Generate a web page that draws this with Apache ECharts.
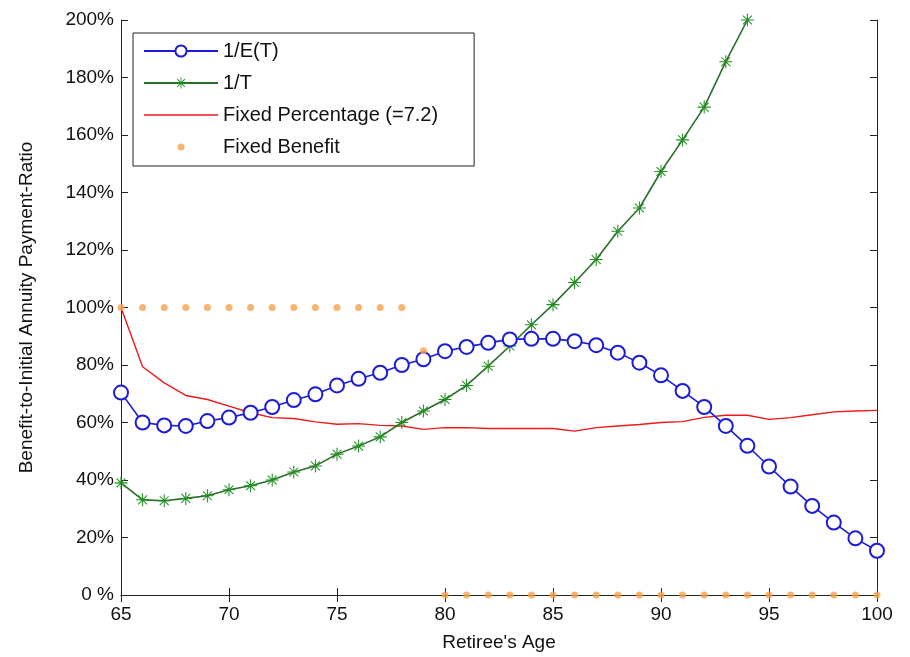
<!DOCTYPE html>
<html>
<head>
<meta charset="utf-8">
<script src="https://cdn.jsdelivr.net/npm/echarts@6/dist/echarts.min.js"></script>
<style>html,body{margin:0;padding:0;background:#fff;}#c{width:910px;height:657px;}</style>
</head>
<body>
<div id="c"></div>
<script>
const ages = [65,66,67,68,69,70,71,72,73,74,75,76,77,78,79,80,81,82,83,84,85,86,87,88,89,90,91,92,93,94,95,96,97,98,99,100];
const invET = [70.4,60,59,58.8,60.5,61.7,63.4,65.4,67.8,69.8,72.9,75.2,77.3,80,82,84.8,86.3,87.7,88.9,89.1,89.1,88.3,86.9,84.3,80.8,76.4,71,65.4,58.8,51.9,44.7,37.7,31,25.2,19.7,15.4];
const invT = [39,33.1,32.8,33.6,34.5,36.6,38,40,42.8,44.9,49,51.8,55,60,64,68,72.9,79.6,86.6,94,101,108.7,116.7,126.5,134.6,147.3,158.3,169.7,185.5,200];
const fixedPct = [100,79.4,73.8,69.4,68,65.7,63.4,61.7,61.4,60.2,59.4,59.6,59,58.8,57.6,58.2,58.2,57.9,57.9,57.9,57.9,57,58.2,58.8,59.3,60,60.3,61.8,62.5,62.5,61.1,61.7,62.7,63.7,64,64.2];
const fixedBenefit = [100,100,100,100,100,100,100,100,100,100,100,100,100,100,85,0,0,0,0,0,0,0,0,0,0,0,0,0,0,0,0,0,0,0,0,0];
const xTicks = [65,70,75,80,85,90,95,100];
const yTicks = ['0 %','20%','40%','60%','80%','100%','120%','140%','160%','180%','200%'];

const zip = (xs, ys) => ys.map((v, i) => [xs[i], v]);
const star = 'path://M9.2 0L10.8 0L10.8 20L9.2 20Z M0 9.2L20 9.2L20 10.8L0 10.8Z M2.6 3.7L3.7 2.6L17.4 16.3L16.3 17.4Z M16.3 2.6L17.4 3.7L3.7 17.4L2.6 16.3Z';
// legend icons: bounding points at the corners keep the 74x14 box
const lineIcon = 'path://M0 0L0.01 0L0 0.01Z M74 14L73.99 14L74 13.99Z M0 6.3L74 6.3L74 7.7L0 7.7Z';
const dotIcon = 'path://M0 0L0.01 0L0 0.01Z M74 14L73.99 14L74 13.99Z M33.5 7A3.5 3.5 0 1 0 40.5 7A3.5 3.5 0 1 0 33.5 7Z';
const font = 'Liberation Sans, Arial, sans-serif';
const frame = '#222';

const chart = echarts.init(document.getElementById('c'));
chart.setOption({
  animation: false,
  backgroundColor: '#fff',
  textStyle: {fontFamily: font},
  grid: {left: 121, right: 33, top: 20, bottom: 61},
  legend: {
    orient: 'vertical', left: 133, top: 33,
    padding: [8, 36, 9, 10],
    itemWidth: 74, itemHeight: 14, itemGap: 12,
    borderColor: frame, borderWidth: 1, backgroundColor: '#fff',
    textStyle: {fontFamily: font, fontSize: 20, color: '#111'},
    data: ['1/E(T)', '1/T',
      {name: 'Fixed Percentage (=7.2)', icon: lineIcon},
      {name: 'Fixed Benefit', icon: dotIcon}]
  },
  xAxis: [{
    type: 'value', min: 65, max: 100, interval: 5,
    name: "Retiree's Age", nameLocation: 'middle', nameGap: 38,
    nameTextStyle: {fontFamily: font, fontSize: 19, color: '#111'},
    axisLine: {lineStyle: {color: frame, width: 1}},
    axisTick: {inside: true, length: 7, lineStyle: {color: frame}},
    axisLabel: {fontFamily: font, fontSize: 19, color: '#111', margin: 10,
      formatter: v => xTicks.indexOf(v) >= 0 ? String(v) : ''},
    splitLine: {show: false}
  }, {
    type: 'value', min: 65, max: 100, interval: 5, position: 'top',
    axisLine: {show: true, lineStyle: {color: frame, width: 1}},
    axisTick: {show: true, inside: true, length: 7, lineStyle: {color: frame}},
    axisLabel: {show: false}, splitLine: {show: false}
  }],
  yAxis: [{
    type: 'value', min: 0, max: 200, interval: 20,
    name: 'Benefit-to-Initial Annuity Payment-Ratio', nameLocation: 'middle', nameGap: 85,
    nameTextStyle: {fontFamily: font, fontSize: 19, color: '#111'},
    axisLine: {show: true, lineStyle: {color: frame, width: 1}},
    axisTick: {show: true, inside: true, length: 7, lineStyle: {color: frame}},
    axisLabel: {fontFamily: font, fontSize: 19, color: '#111', margin: 7,
      formatter: v => yTicks[Math.round(v / 20)]},
    splitLine: {show: false}
  }, {
    type: 'value', min: 0, max: 200, interval: 20, position: 'right',
    axisLine: {show: true, lineStyle: {color: frame, width: 1}},
    axisTick: {show: true, inside: true, length: 7, lineStyle: {color: frame}},
    axisLabel: {show: false}, splitLine: {show: false}
  }],
  series: [{
    name: '1/E(T)', type: 'line', data: zip(ages, invET),
    symbol: 'emptyCircle', symbolSize: 14,
    lineStyle: {color: '#1c1cd8', width: 1.6},
    itemStyle: {color: '#1c1cd8', borderColor: '#1c1cd8', borderWidth: 1.5},
    z: 4
  }, {
    name: '1/T', type: 'line', data: zip(ages, invT),
    symbol: star, symbolSize: 13,
    lineStyle: {color: '#2a6e2a', width: 1.6},
    itemStyle: {color: '#1f8f1f'},
    z: 3
  }, {
    name: 'Fixed Percentage (=7.2)', type: 'line', data: zip(ages, fixedPct),
    symbol: 'none', showSymbol: false,
    lineStyle: {color: '#f01818', width: 1.4},
    itemStyle: {color: '#f01818'},
    z: 2
  }, {
    name: 'Fixed Benefit', type: 'scatter', data: zip(ages, fixedBenefit),
    symbol: 'circle', symbolSize: 7,
    itemStyle: {color: '#f7a14c'},
    z: 5
  }]
});
</script>
</body>
</html>
